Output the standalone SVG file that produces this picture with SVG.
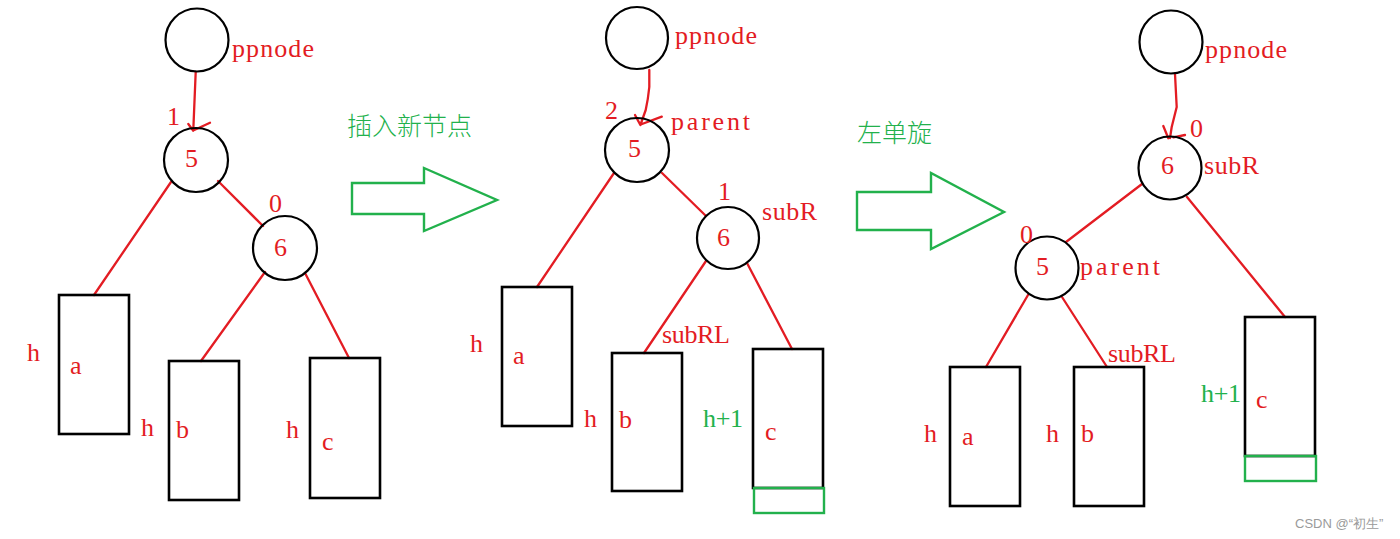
<svg xmlns="http://www.w3.org/2000/svg" width="1400" height="539" viewBox="0 0 1400 539">
<style>
.c{fill:none;stroke:#000;stroke-width:2.2}
.r{fill:none;stroke:#000;stroke-width:2.6}
.g{fill:none;stroke:#22b14c;stroke-width:2.4}
.e{fill:none;stroke:#e31c23;stroke-width:2.3;stroke-linecap:round;stroke-linejoin:round}
.t{font-family:"Liberation Serif",serif;font-size:26px;fill:#e31c23}
.tg{font-family:"Liberation Serif",serif;font-size:26px;fill:#22b14c}
.cn{font-family:"Noto Sans CJK SC",sans-serif;font-size:25px;font-weight:300;fill:#22b14c}
.w{font-family:"Liberation Sans",sans-serif;font-size:13px;fill:#9a9a9a}
</style>
<rect width="1400" height="539" fill="#fff"/>

<g id="connectors">
  <!-- panel 1 -->
  <path class="e" d="M195.7,72 L193.3,130 M188.3,124 L193.3,130.7 M210,122.7 L194.3,130"/>
  <line class="e" x1="218" y1="181" x2="263" y2="226"/>
  <line class="e" x1="171" y1="182" x2="94" y2="295"/>
  <line class="e" x1="265" y1="272" x2="201" y2="361"/>
  <line class="e" x1="305" y1="273" x2="349" y2="358"/>
  <!-- panel 2 -->
  <path class="e" d="M649.3,70 L649.3,87 Q648,100 645.7,110 L640.4,125 M635,115 L640.4,125 M661.8,116.7 L642,124"/>
  <line class="e" x1="662" y1="173" x2="706" y2="216"/>
  <line class="e" x1="614" y1="173" x2="537" y2="287"/>
  <line class="e" x1="706" y1="261" x2="644" y2="353"/>
  <line class="e" x1="747" y1="263" x2="792" y2="349"/>
  <!-- panel 3 -->
  <path class="e" d="M1175,74 L1176.7,107 L1171.7,127 L1170,138 M1163.3,126 L1168.3,138.3 M1185,135 L1173.3,137.3"/>
  <line class="e" x1="1142" y1="184" x2="1066" y2="242"/>
  <line class="e" x1="1187" y1="197" x2="1285" y2="317"/>
  <line class="e" x1="1028" y1="295" x2="986" y2="367"/>
  <line class="e" x1="1062" y1="297" x2="1107" y2="367"/>
</g>

<!-- transition arrows -->
<g id="arrow1">
  <polygon class="g" points="352,183 424,183 424,168 497,200 424,231 424,214 352,214"/>
  <text class="cn" x="347" y="135">插入新节点</text>
</g>
<g id="arrow2">
  <polygon class="g" points="857,192 931,192 931,173 1004,212 931,249 931,230 857,230"/>
  <text class="cn" x="857" y="142">左单旋</text>
</g>

<!-- panel 1 -->
<g id="p1-ppnode">
  <circle class="c" cx="197" cy="40" r="31.5"/>
  <text class="t" x="232" y="57" textLength="82" lengthAdjust="spacing">ppnode</text>
</g>
<g id="p1-node5">
  <circle class="c" cx="196" cy="160" r="32"/>
  <text class="t" x="185" y="167">5</text>
  <text class="t" x="167" y="125">1</text>
</g>
<g id="p1-node6">
  <circle class="c" cx="285" cy="248" r="32"/>
  <text class="t" x="274" y="256">6</text>
  <text class="t" x="269" y="212">0</text>
</g>
<g id="p1-a">
  <rect class="r" x="59" y="295" width="70" height="139"/>
  <text class="t" x="27" y="361">h</text>
  <text class="t" x="70" y="374">a</text>
</g>
<g id="p1-b">
  <rect class="r" x="169" y="361" width="70" height="139"/>
  <text class="t" x="141" y="436">h</text>
  <text class="t" x="176" y="438">b</text>
</g>
<g id="p1-c">
  <rect class="r" x="310" y="358" width="70" height="140"/>
  <text class="t" x="286" y="438">h</text>
  <text class="t" x="322" y="450">c</text>
</g>

<!-- panel 2 -->
<g id="p2-ppnode">
  <circle class="c" cx="637" cy="38" r="31"/>
  <text class="t" x="675" y="44" textLength="82" lengthAdjust="spacing">ppnode</text>
</g>
<g id="p2-node5">
  <circle class="c" cx="637" cy="150" r="32"/>
  <text class="t" x="628" y="157">5</text>
  <text class="t" x="605" y="119">2</text>
  <text class="t" x="671" y="130" textLength="79" lengthAdjust="spacing">parent</text>
</g>
<g id="p2-node6">
  <circle class="c" cx="728" cy="238" r="31"/>
  <text class="t" x="717" y="246">6</text>
  <text class="t" x="718" y="200">1</text>
  <text class="t" x="762" y="220" textLength="55" lengthAdjust="spacing">subR</text>
</g>
<g id="p2-a">
  <rect class="r" x="502" y="287" width="70" height="139"/>
  <text class="t" x="470" y="352">h</text>
  <text class="t" x="513" y="364">a</text>
</g>
<g id="p2-b">
  <rect class="r" x="612" y="353" width="70" height="138"/>
  <text class="t" x="584" y="427">h</text>
  <text class="t" x="619" y="428">b</text>
  <text class="t" x="662" y="343" textLength="68" lengthAdjust="spacing">subRL</text>
</g>
<g id="p2-c">
  <rect class="r" x="753" y="349" width="70" height="139"/>
  <rect class="g" x="754" y="488" width="70" height="25"/>
  <text class="tg" x="703" y="427" textLength="40" lengthAdjust="spacing">h+1</text>
  <text class="t" x="765" y="440">c</text>
</g>

<!-- panel 3 -->
<g id="p3-ppnode">
  <circle class="c" cx="1171" cy="42" r="31.5"/>
  <text class="t" x="1205" y="58" textLength="82" lengthAdjust="spacing">ppnode</text>
</g>
<g id="p3-node6">
  <circle class="c" cx="1170" cy="168" r="31.5"/>
  <text class="t" x="1161" y="174">6</text>
  <text class="t" x="1190" y="137">0</text>
  <text class="t" x="1204" y="174" textLength="55" lengthAdjust="spacing">subR</text>
</g>
<g id="p3-node5">
  <circle class="c" cx="1047" cy="268" r="31.5"/>
  <text class="t" x="1036" y="275">5</text>
  <text class="t" x="1020" y="243">0</text>
  <text class="t" x="1080" y="275" textLength="80" lengthAdjust="spacing">parent</text>
</g>
<g id="p3-a">
  <rect class="r" x="950" y="367" width="70" height="139"/>
  <text class="t" x="924" y="442">h</text>
  <text class="t" x="962" y="445">a</text>
</g>
<g id="p3-b">
  <rect class="r" x="1074" y="367" width="70" height="139"/>
  <text class="t" x="1046" y="442">h</text>
  <text class="t" x="1081" y="442">b</text>
  <text class="t" x="1108" y="362" textLength="68" lengthAdjust="spacing">subRL</text>
</g>
<g id="p3-c">
  <rect class="r" x="1245" y="317" width="70" height="139"/>
  <rect class="g" x="1245" y="456" width="71" height="25"/>
  <text class="tg" x="1201" y="402" textLength="40" lengthAdjust="spacing">h+1</text>
  <text class="t" x="1256" y="408">c</text>
</g>

<text class="w" x="1295" y="528">CSDN @“初生”</text>
</svg>
